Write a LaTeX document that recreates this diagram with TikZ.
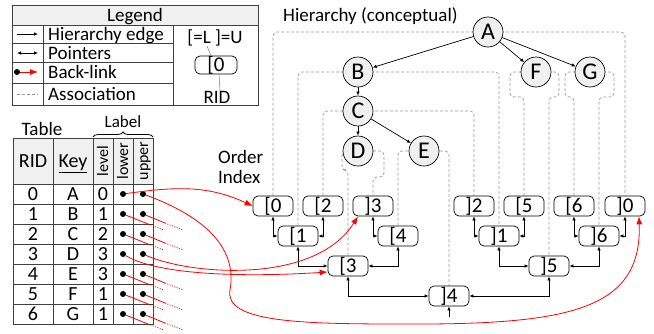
\documentclass[tikz,border=0pt]{standalone}
\usepackage{fontspec}
\setmainfont{Carlito}
\usetikzlibrary{arrows.meta,backgrounds,decorations.pathreplacing}
\tikzstyle{txt} = [inner sep=0pt, text height=12pt, text depth=0pt, font={\fontsize{19}{21}\selectfont}]
\tikzstyle{cell} = [inner sep=0pt, text height=12.6pt, text depth=0pt, font={\fontsize{20}{22}\selectfont}]
\tikzstyle{colhead} = [rotate=90, inner sep=0pt, text height=10pt, text depth=0pt, font={\fontsize{16}{18}\selectfont}]
\tikzstyle{conc} = [draw=black, line width=0.7pt, fill=black!6, circle, minimum size=30pt, inner sep=0pt, text height=15pt, text depth=0pt, font={\fontsize{24}{26}\selectfont}]
\tikzstyle{idx} = [draw=black, line width=0.7pt, rounded corners=5pt, minimum width=40pt, minimum height=20pt, inner sep=0pt, text height=13.3pt, text depth=0pt, font={\fontsize{21}{23}\selectfont}]
\tikzstyle{tabline} = [draw=black!75, line width=1pt]
\tikzstyle{hedge} = [line width=0.7pt, -{Latex[length=4pt,width=3.5pt]}]
\tikzstyle{ptr} = [line width=0.7pt, {Latex[length=4pt,width=3.5pt]}-{Latex[length=4pt,width=3.5pt]}]
\tikzstyle{back} = [red, line width=0.8pt, -{Latex[length=8pt,width=6pt]}]
\tikzstyle{stub} = [red, line width=0.8pt]
\tikzstyle{stubfade} = [stub, dash pattern=on 1pt off 1.5pt]
\tikzstyle{assoc} = [draw=black!40, line width=0.7pt, dash pattern=on 3pt off 2pt, rounded corners=4pt]
\tikzstyle{bullet} = [circle, fill=black, inner sep=0pt, minimum size=6pt]

\begin{document}
\begin{tikzpicture}[x=1pt,y=1pt]
  \useasboundingbox (0,0) rectangle (654,-333);

  % legend
  \fill[black!6] (12,-5) rectangle (258,-25);
  \draw[tabline] (12,-5) rectangle (258,-105);
  \draw[tabline] (12,-25) -- (258,-25);
  \foreach \y in {43,62,83} \draw[tabline] (12,-\y) -- (173,-\y);
  \draw[tabline] (43,-25) -- (43,-105);
  \draw[tabline] (173,-25) -- (173,-105);
  \node[txt] (legend) at (135,-15) {Legend};
  \foreach \y/\sty/\txt [count=\i] in {34/hedge/Hierarchy edge, 53/ptr/Pointers, 72/back/Back-link, 94/assoc/Association} {
    \coordinate (lgs\i) at (17,-\y);
    \coordinate (lge\i) at (38,-\y);
    \draw[\sty] (lgs\i) -- (lge\i);
    \node[txt, anchor=west] (lgt\i) at (48,-\y) {\txt};
  }
  \node[bullet] (lgdot) at (lgs3) {};
  \node[txt] (lgkey) at (215,-37) {[=L ]=U};
  \node[idx, minimum width=42pt, minimum height=18pt] (lgbox) at (216,-65) {[0};
  \node[txt] (lgrid) at (217,-97) {RID};
  \draw[black!45, line width=0.6pt] ([xshift=-8pt,yshift=-3pt]lgkey.south) -- ([xshift=-5pt]lgbox.north);
  \draw[black!45, line width=0.6pt] ([xshift=3pt]lgbox.south) -- ([xshift=3pt]lgrid.north);

  % table
  \node[txt] (table) at (42,-129) {Table};
  \fill[black!6] (13,-138) rectangle (153,-184);
  \draw[tabline] (13,-138) rectangle (153,-324);
  \foreach \y in {184,204,...,304} \draw[tabline] (13,-\y) -- (153,-\y);
  \foreach \x in {53,93,113,133} \draw[tabline] (\x,-138) -- (\x,-324);
  \node[cell] (hrid) at (33,-161) {RID};
  \node[cell] (hkey) at (73,-161) {\underline{Key}};
  \node[colhead] (hlevel) at (103,-161) {level};
  \node[colhead] (hlower) at (123,-161) {lower};
  \node[colhead] (hupper) at (143,-161) {upper};
  \draw[line width=0.8pt, decorate, decoration={brace, amplitude=5pt}] (93,-137) -- (153,-137);
  \node[txt, font={\fontsize{17}{19}\selectfont}] (label) at (123,-121) {Label};
  \foreach \r/\k/\l in {0/A/0,1/B/1,2/C/2,3/D/3,4/E/3,5/F/1,6/G/1} {
    \node[cell] (rid\r) at (33,-194-20*\r) {\r};
    \node[cell] (key\r) at (73,-194-20*\r) {\k};
    \node[cell] (lvl\r) at (103,-194-20*\r) {\l};
    \node[bullet] (lo\r) at (123,-194-20*\r) {};
    \node[bullet] (up\r) at (143,-194-20*\r) {};
  }

  % hierarchy
  \node[txt, anchor=west] (title) at (283,-15) {Hierarchy (conceptual)};
  \node[conc] (A) at (488,-32) {A};
  \node[conc] (B) at (358,-72) {B};
  \node[conc] (C) at (358,-111) {C};
  \node[conc] (D) at (358,-151) {D};
  \node[conc] (E) at (424,-151) {E};
  \node[conc] (F) at (536,-72) {F};
  \node[conc] (G) at (590,-72) {G};
  \draw[hedge] (A) -- (B);
  \draw[hedge] (A) -- (F);
  \draw[hedge] (A) -- (G);
  \draw[hedge] (B) -- (C);
  \draw[hedge] (C) -- (D);
  \draw[hedge] (C) -- (E);

  % order index
  \node[txt, anchor=west] (order) at (218,-157) {Order};
  \node[txt, anchor=west] (index) at (218,-177) {Index};
  \node[idx] (L0) at (273,-206) {[0};
  \node[idx] (L2) at (323,-206) {[2};
  \node[idx] (U3) at (373,-206) {]3};
  \node[idx] (U2) at (474,-206) {]2};
  \node[idx] (L5) at (524,-206) {[5};
  \node[idx] (L6) at (574,-206) {[6};
  \node[idx] (U0) at (625,-206) {]0};
  \node[idx] (L1) at (298,-236) {[1};
  \node[idx] (L4) at (398,-236) {[4};
  \node[idx] (U1) at (499,-236) {]1};
  \node[idx] (U6) at (599,-236) {]6};
  \node[idx] (L3) at (348,-266) {[3};
  \node[idx] (U5) at (549,-266) {]5};
  \node[idx] (U4) at (449,-296) {]4};
  \draw[ptr] (L0.south) |- (L1.west);
  \draw[ptr] (L2.south) |- (L1.east);
  \draw[ptr] (U3.south) |- (L4.west);
  \draw[ptr] (L1.south) |- (L3.west);
  \draw[ptr] (L4.south) |- (L3.east);
  \draw[ptr] (L3.south) |- (U4.west);
  \draw[ptr] (U5.south) |- (U4.east);
  \draw[ptr] (U2.south) |- (U1.west);
  \draw[ptr] (L5.south) |- (U1.east);
  \draw[ptr] (U1.south) |- (U5.west);
  \draw[ptr] (U6.south) |- (U5.east);
  \draw[ptr] (L6.south) |- (U6.west);
  \draw[ptr] (U0.south) |- (U6.east);
  \coordinate (root) at (449,-317);
  \draw[hedge] (root) -- (U4.south);

  \begin{scope}[on background layer]
    \draw[assoc] (L0.north) |- (A.center) -| (U0.north);
    \draw[assoc] (L1.north) |- (B.center) -| (U1.north);
    \draw[assoc] (L2.north) |- (C.center) -| (U2.north);
    \draw[assoc] (L3.north) |- (342,-170) |- (D.center) -| (384,-177) -| (U3.north);
    \draw[assoc] (L4.north) |- (E.center) -| (U4.north);
    \draw[assoc] (L5.north) |- (510,-97) |- (F.center) -| (559,-97) -| (U5.north);
    \draw[assoc] (L6.north) |- (565,-97) |- (G.center) -| (614,-97) -| (U6.north);
  \end{scope}

  % back-links
  \draw[back] (lo0) to[out=8, in=155] (L0.west);
  \draw[back] (up0) .. controls (200,-215) and (238,-245) .. (230,-290)
    .. controls (224,-322) and (300,-324) .. (400,-324)
    .. controls (570,-325) and (642,-310) .. ([xshift=14pt]U0.south);
  \draw[back] (lo3) .. controls (160,-276) and (250,-277) .. ([yshift=-6pt]L3.west);
  \draw[back] (up3) .. controls (190,-275) and (315,-285) .. ([xshift=-15pt]U3.south);
  \foreach \r in {1,2,4,5,6} {
    \draw[stub] (lo\r) -- ++(25,-10) coordinate (lom\r);
    \draw[stubfade] (lom\r) -- ++(16,-6);
    \draw[stub] (up\r) -- ++(22,-9) coordinate (upm\r);
    \draw[stubfade] (upm\r) -- ++(18,-7);
  }
\end{tikzpicture}
\end{document}
